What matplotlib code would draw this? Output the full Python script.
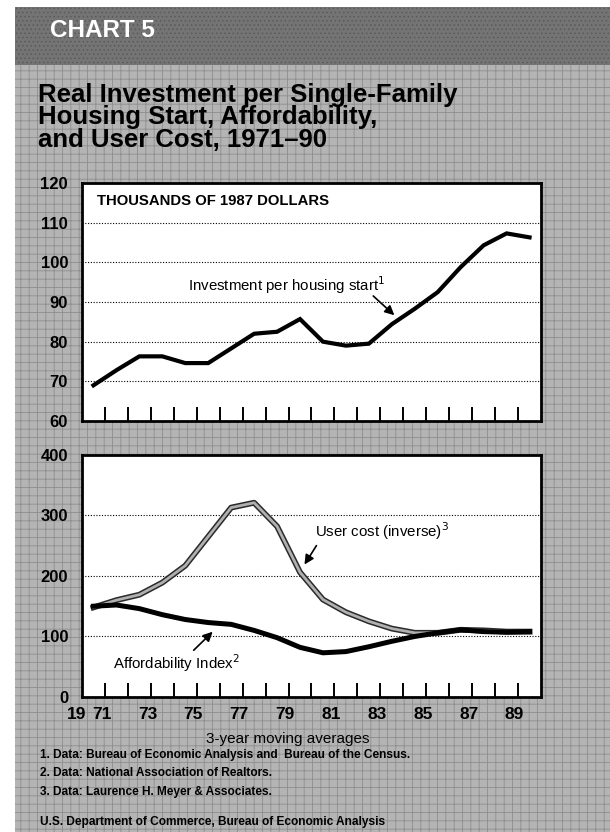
import matplotlib
matplotlib.use("Agg")
import matplotlib.pyplot as plt
import matplotlib.patheffects as pe
from matplotlib.patches import Rectangle
from matplotlib import font_manager

# data (3-year moving averages)
years = list(range(1971, 1991))
investment = [69.0, 72.8, 76.3, 76.3, 74.6, 74.6, 78.3, 82.0, 82.5, 85.7,
              80.0, 79.0, 79.5, 84.4, 88.3, 92.5, 98.8, 104.3, 107.3, 106.3]
affordability = [150, 152, 146, 136, 128, 123, 120, 110, 98, 82,
                 73, 75, 83, 92, 100, 106, 111, 108, 107, 108]
user_cost = [148, 160, 169, 189, 217, 265, 313, 321, 282, 206,
             161, 140, 125, 113, 106, 106, 111, 110, 108, 108]

label_years = list(range(1971, 1990, 2))
label_text = [str(y)[2:] for y in label_years]
top_yticks = [60, 70, 80, 90, 100, 110, 120]
bot_yticks = [0, 100, 200, 300, 400]

names = {f.name for f in font_manager.fontManager.ttflist}
NARROW = 'Liberation Sans Narrow' if 'Liberation Sans Narrow' in names else 'Liberation Sans'
plt.rcParams['font.family'] = ['Liberation Sans', 'DejaVu Sans']
plt.rcParams['hatch.linewidth'] = 0.6

fig = plt.figure(figsize=(6.1, 8.32), dpi=100)
fig.patch.set_facecolor('white')

# textured grey page and dark header band
fig.patches.append(Rectangle((0.0246, 0), 0.9754, 0.9219, transform=fig.transFigure,
                             facecolor='#b4b4b4', edgecolor='#8e8e8e', hatch='++',
                             linewidth=0, zorder=-10))
fig.patches.append(Rectangle((0.0246, 0.9219), 0.9754, 0.0697, transform=fig.transFigure,
                             facecolor='#747474', edgecolor='#5a5a5a', hatch='....',
                             linewidth=0, zorder=-10))

fig.text(0.082, 0.9555, 'CHART 5', color='white', fontsize=17.5, fontweight='bold',
         va='baseline')
title = ('Real Investment per Single-Family\nHousing Start, Affordability,\n'
         'and User Cost, 1971\u201390')
fig.text(0.0623, 0.9005, title, fontsize=18.5, fontweight='bold', va='top',
         linespacing=0.93)

ax1 = fig.add_axes([0.1344, 0.494, 0.7525, 0.286])
ax2 = fig.add_axes([0.1344, 0.1623, 0.7525, 0.2909])

boundaries = [y + 0.5 for y in years[:-1]]
for ax in (ax1, ax2):
    ax.set_zorder(2)
    ax.set_facecolor('white')
    ax.set_xlim(1970.5, 1990.5)
    for s in ax.spines.values():
        s.set_linewidth(2)
    ax.set_xticks(boundaries)
    ax.tick_params(axis='x', which='major', direction='in', length=10, width=1.4,
                   labelbottom=False)
    ax.tick_params(axis='y', length=0, pad=10, labelsize=12)
    ax.yaxis.grid(True, color='black', linestyle=(0, (1, 1.5)), linewidth=0.8)
    ax.set_axisbelow(True)

# top panel
ax1.set_ylim(60, 120)
ax1.set_yticks(top_yticks)
ax1.set_yticklabels([str(v) for v in top_yticks], fontweight='bold', fontsize=12)
ax1.plot(years, investment, color='black', linewidth=3, solid_joinstyle='miter', zorder=3)
ax1.text(0.033, 0.924, 'THOUSANDS OF 1987 DOLLARS', transform=ax1.transAxes,
         fontsize=10.7, fontweight='bold', family=NARROW, va='center')
ax1.text(0.231, 0.571, 'Investment per housing start$^{1}$', transform=ax1.transAxes,
         fontsize=10.8, family=NARROW, va='center')
ax1.annotate('', xy=(1984.2, 86.2), xytext=(1983.1, 92.0),
             arrowprops=dict(arrowstyle='-|>', color='black', lw=1.2,
                             mutation_scale=14))

# bottom panel
ax2.set_ylim(0, 400)
ax2.set_yticks(bot_yticks)
ax2.set_yticklabels([str(v) for v in bot_yticks], fontweight='bold', fontsize=12)
ax2.plot(years, user_cost, color='#b0b0b0', linewidth=2, zorder=3,
         path_effects=[pe.Stroke(linewidth=4.2, foreground='#2a2a2a'), pe.Normal()])
ax2.plot(years, affordability, color='black', linewidth=3.6, zorder=4)
ax2.set_xticks([y + 0.35 for y in label_years], minor=True)
ax2.set_xticklabels(label_text, minor=True, fontsize=12.5, fontweight='bold')
ax2.tick_params(axis='x', which='minor', length=0, pad=7)
ax2.annotate('19', xy=(1971.35, 0), xycoords=ax2.get_xaxis_transform(),
             xytext=(-11, -7), textcoords='offset points', ha='right', va='top',
             fontsize=12.5, fontweight='bold')

ax2.text(0.508, 0.686, 'User cost (inverse)$^{3}$', transform=ax2.transAxes,
         fontsize=10.8, family=NARROW, va='center')
ax2.annotate('', xy=(1980.13, 215), xytext=(1980.78, 254),
             arrowprops=dict(arrowstyle='-|>', color='black', lw=1.2, mutation_scale=14))
ax2.text(0.0675, 0.140, 'Affordability Index$^{2}$', transform=ax2.transAxes,
         fontsize=10.8, family=NARROW, va='center')
ax2.annotate('', xy=(1976.28, 111), xytext=(1975.28, 74),
             arrowprops=dict(arrowstyle='-|>', color='black', lw=1.2, mutation_scale=14))

fig.text(0.472, 0.1118, '3-year moving averages', fontsize=11, family=NARROW,
         ha='center', va='center')
notes = ['1. Data: Bureau of Economic Analysis and  Bureau of the Census.',
         '2. Data: National Association of Realtors.',
         '3. Data: Laurence H. Meyer & Associates.',
         'U.S. Department of Commerce, Bureau of Economic Analysis']
for note, yy in zip(notes, [0.0925, 0.0709, 0.0481, 0.0120]):
    fig.text(0.0656, yy, note, fontsize=8.6, fontweight='bold', family=NARROW, va='center')

fig.savefig('out.png', dpi=100)
